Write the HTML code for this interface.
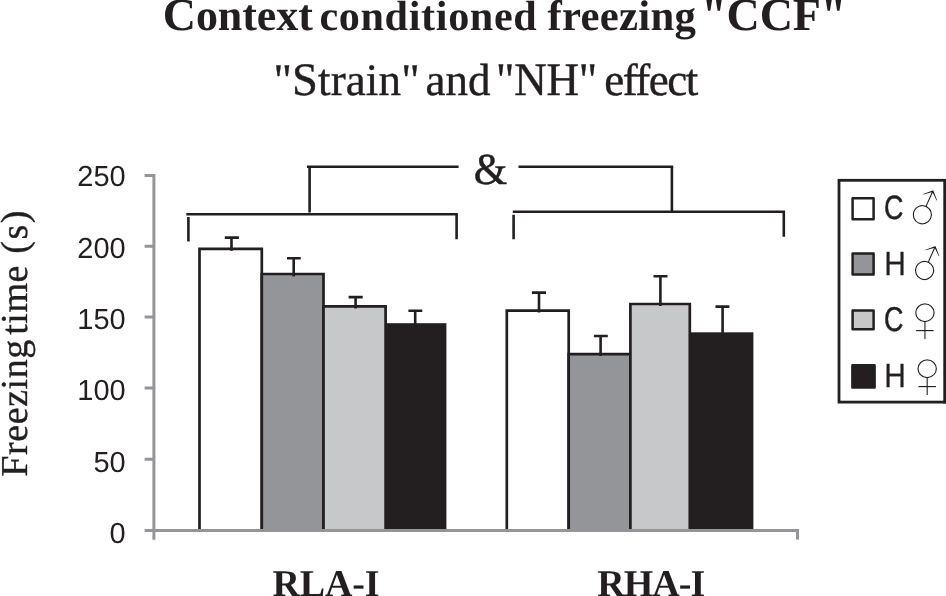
<!DOCTYPE html>
<html lang="en">
<head>
<meta charset="utf-8">
<title>Context conditioned freezing "CCF"</title>
<style>
html,body{margin:0;padding:0;background:#fff;}
body{width:946px;height:596px;overflow:hidden;}
svg{display:block;}
.serif{font-family:"Liberation Serif","Noto Serif CJK SC",serif;fill:#231f20;}
.sans{font-family:"Liberation Sans","Noto Sans CJK SC",sans-serif;fill:#231f20;}
.sym{font-family:"Liberation Mono","DejaVu Sans Mono",monospace;fill:#231f20;stroke:#ffffff;stroke-width:1.3;}
.k{stroke:#231f20;fill:none;stroke-width:2.6;}
.ax{stroke:#939598;fill:none;stroke-width:3;}
</style>
</head>
<body>
<svg width="946" height="596" viewBox="0 0 946 596" text-rendering="geometricPrecision">
<rect x="0" y="0" width="946" height="596" fill="#ffffff"/>

<!-- titles -->
<g class="serif" font-weight="bold" font-size="44">
<text x="162.8" y="30.4" textLength="150" lengthAdjust="spacing"><tspan font-size="46">C</tspan>ontext</text>
<text x="319.4" y="30.4" font-size="42.2" textLength="217.4" lengthAdjust="spacing">conditioned</text>
<text x="547.6" y="30.4" font-size="42.8" textLength="148.3" lengthAdjust="spacing">freezing</text>
<text x="701.2" y="30.4" font-size="46" textLength="145" lengthAdjust="spacing">"CCF"</text>
</g>
<g class="serif" font-size="45" stroke="#231f20" stroke-width="0.4">
<text x="273.5" y="94.5" textLength="146" lengthAdjust="spacing">"<tspan font-size="46.5">S</tspan>train"</text>
<text x="425.5" y="94.5" textLength="65" lengthAdjust="spacing">and</text>
<text x="496" y="0" transform="translate(0 94.5) scale(1 1.035)" textLength="101" lengthAdjust="spacing">"NH"</text>
<text x="604.2" y="94.5" textLength="94" lengthAdjust="spacing">effect</text>
</g>

<!-- y axis title -->
<g class="serif" font-size="38" transform="translate(27,476.7) rotate(-90)" stroke="#231f20" stroke-width="0.35">
<text x="0" y="0" textLength="137" lengthAdjust="spacing">Freezing</text>
<text x="142" y="0" textLength="69" lengthAdjust="spacing">time</text>
<text x="223" y="0" textLength="43" lengthAdjust="spacing">(s)</text>
</g>

<!-- bars RLA-I -->
<g stroke="#231f20" stroke-width="2.7" stroke-linejoin="miter">
<path d="M199.5 531V248.8H261.8V531" fill="#ffffff"/>
<path d="M261.8 531V274.0H323.5V531" fill="#939598"/>
<path d="M323.5 531V306.3H385.6V531" fill="#c7c8ca"/>
<path d="M506.8 531V310.6H568.7V531" fill="#ffffff"/>
<path d="M568.7 531V354.1H630.4V531" fill="#939598"/>
<path d="M630.4 531V304.0H689.8V531" fill="#c7c8ca"/>
</g>
<rect x="385.6" y="323.2" width="60.8" height="207.8" fill="#231f20"/>
<rect x="689.8" y="332.3" width="63.6" height="198.7" fill="#231f20"/>

<!-- error bars -->
<g class="k">
<path d="M231.5 250.7V237.6M224.8 237.6H238.9"/>
<path d="M293.7 276.4V258.2M287 258.2H300.7"/>
<path d="M355.6 308.5V297.1M348.6 297.1H362.7"/>
<path d="M415.2 325V310.8M408.4 310.8H422.3"/>
<path d="M539 312.5V292.6M531.9 292.6H546"/>
<path d="M600.6 356V336M593.9 336H607.8"/>
<path d="M660.4 306V276.3M653.5 276.3H667.5"/>
<path d="M722.6 335V306.6M715.5 306.6H729.4"/>
</g>

<!-- axes -->
<g class="ax">
<path d="M153.9 174V539.8"/>
<path d="M144.6 530.5H797.5V539.5"/>
<path d="M144.6 175.5H154M144.6 246.3H154M144.6 317H154M144.6 387.9H154M144.6 459.2H154"/>
</g>

<!-- axis labels -->
<g class="sans" font-size="29" text-anchor="end">
<text x="125.7" y="186.2">250</text>
<text x="125.7" y="257.8">200</text>
<text x="125.7" y="329.2">150</text>
<text x="125.7" y="400.4">100</text>
<text x="125.7" y="471.8">50</text>
<text x="125.7" y="542.8">0</text>
</g>

<!-- brackets -->
<g class="k">
<path d="M307 166.7H458.6M518.5 166.7H673.2"/>
<path d="M309.6 166.7V212.5M671.9 166.7V211"/>
<path d="M186.3 214.2H457.9M456.6 214.2V239.3M188.4 217V241.4"/>
<path d="M512.8 211.8H785.1M783.8 211.8V236.8M513.6 214.7V239.3"/>
</g>
<text class="serif" font-size="43" stroke="#231f20" stroke-width="0.5" transform="translate(473.8,184.1) scale(1,1.035)">&amp;</text>

<!-- category labels -->
<g class="serif" font-weight="bold" font-size="38">
<text x="272.5" y="596" textLength="107" lengthAdjust="spacing">RLA-I</text>
<text x="597.3" y="596" textLength="108" lengthAdjust="spacing">RHA-I</text>
</g>

<!-- legend -->
<rect x="839" y="180.3" width="110" height="221.8" fill="#ffffff" stroke="#231f20" stroke-width="2.8"/>
<rect x="943.3" y="179" width="4" height="224.5" fill="#231f20"/>
<g>
<rect x="852.6" y="198.3" width="21" height="21" fill="#ffffff" stroke="#231f20" stroke-width="2.5" stroke-linejoin="round"/>
<text class="sans" font-size="33.5" stroke="#231f20" stroke-width="0.5" x="884.1" y="219.3" textLength="19.4" lengthAdjust="spacingAndGlyphs">C</text>
<text class="sym" x="906.4" y="229.0" font-size="71" transform="rotate(-21 922.4 214.7)">♂</text>
</g>
<g>
<rect x="852.6" y="253.4" width="21" height="21" fill="#939598" stroke="#231f20" stroke-width="2.5" stroke-linejoin="round"/>
<text class="sans" font-size="33.5" stroke="#231f20" stroke-width="0.3" x="884.2" y="275.3" textLength="21.6" lengthAdjust="spacingAndGlyphs">H</text>
<text class="sym" x="908.7" y="284.6" font-size="71" transform="rotate(-21 924.7 270.3)">♂</text>
</g>
<g>
<rect x="852.6" y="310.5" width="21" height="18.7" fill="#c7c8ca" stroke="#231f20" stroke-width="2.5" stroke-linejoin="round"/>
<text class="sans" font-size="34.4" stroke="#231f20" stroke-width="0.5" x="884.1" y="331.4" textLength="19.4" lengthAdjust="spacingAndGlyphs">C</text>
<text class="sym" x="903.4" y="343.5" font-size="71.5" transform="translate(0 12.2) scale(1 0.96)">♀</text>
</g>
<g>
<rect x="852.4" y="365.3" width="22.2" height="22.2" fill="#231f20" stroke="#231f20" stroke-width="2.5" stroke-linejoin="round"/>
<text class="sans" font-size="33.5" stroke="#231f20" stroke-width="0.3" x="884.2" y="386.9" textLength="21.6" lengthAdjust="spacingAndGlyphs">H</text>
<text class="sym" x="905.8" y="399.5" font-size="71.5" transform="translate(0 14.4) scale(1 0.96)">♀</text>
</g>
</svg>
</body>
</html>
